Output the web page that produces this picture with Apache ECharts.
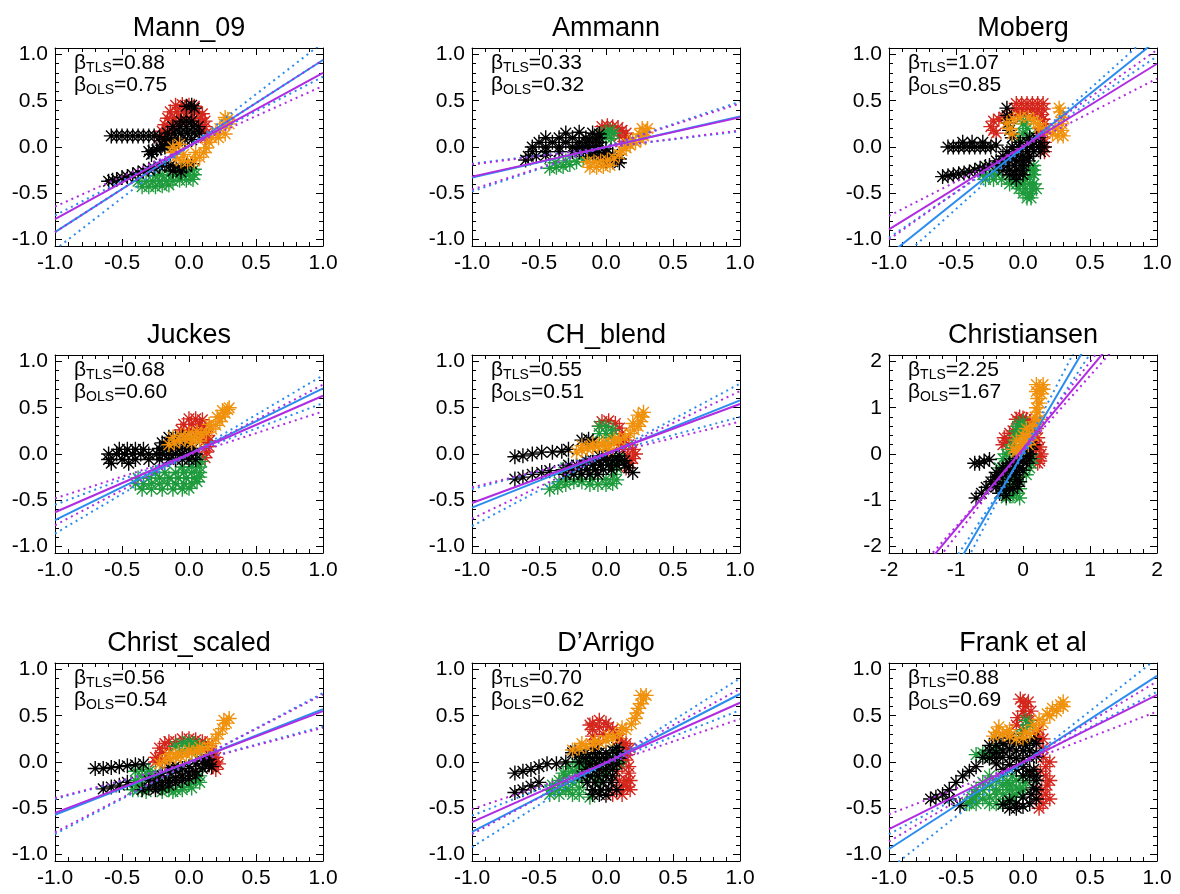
<!DOCTYPE html>
<html><head><meta charset="utf-8">
<script src="https://cdn.jsdelivr.net/npm/echarts@6/dist/echarts.min.js"></script>
<style>html,body{margin:0;padding:0;background:#fff}#c{width:1180px;height:894px}</style>
</head><body><div id="c"></div>
<script>
// ---------- DATA ----------
const panelNames = ['Mann_09', 'Ammann', 'Moberg', 'Juckes', 'CH_blend', 'Christiansen', 'Christ_scaled', "D\u2019Arrigo", 'Frank et al'];
const betaTLS = ['0.88', '0.33', '1.07', '0.68', '0.55', '2.25', '0.56', '0.70', '0.88'];
const betaOLS = ['0.75', '0.32', '0.85', '0.60', '0.51', '1.67', '0.54', '0.62', '0.69'];
const unitTicks = [-1.0, -0.5, 0.0, 0.5, 1.0];
const unitMinor = [-0.9,-0.8,-0.7,-0.6,-0.4,-0.3,-0.2,-0.1,0.1,0.2,0.3,0.4,0.6,0.7,0.8,0.9];
const wideTicks = [-2, -1, 0, 1, 2];
const wideMinor = [-1.8,-1.6,-1.4,-1.2,-0.8,-0.6,-0.4,-0.2,0.2,0.4,0.6,0.8,1.2,1.4,1.6,1.8];
const unitRangeX = [-1, 1];
const unitRangeY = [-1.07, 1.07];
const wideRangeX = [-2, 2];
const wideRangeY = [-2.14, 2.14];

// fit lines: [TLS, TLS bound A, TLS bound B, OLS, OLS bound A, OLS bound B], each [y at xmin, y at xmax]
const mannFit    = [[-0.92,0.94],[-1.11,1.13],[-0.74,0.76],[-0.78,0.80],[-0.645,0.66],[-0.92,0.94]];
const ammannFit  = [[-0.33,0.33],[-0.18,0.17],[-0.48,0.49],[-0.32,0.32],[-0.19,0.18],[-0.46,0.47]];
const mobergFit  = [[-1.165,1.155],[-0.98,0.98],[-1.32,1.28],[-0.89,0.90],[-0.745,0.74],[-1.0,1.05]];
const juckesFit  = [[-0.715,0.71],[-0.86,0.85],[-0.55,0.55],[-0.63,0.63],[-0.48,0.46],[-0.77,0.75]];
const chFit      = [[-0.58,0.58],[-0.78,0.76],[-0.38,0.40],[-0.53,0.54],[-0.36,0.35],[-0.70,0.68]];
const christFit  = [[-4.9,4.94],[-5.58,5.70],[-4.44,4.36],[-3.35,3.57],[-3.65,3.87],[-3.2,3.32]];
const cscaledFit = [[-0.57,0.57],[-0.78,0.745],[-0.40,0.385],[-0.55,0.55],[-0.76,0.73],[-0.39,0.37]];
const darrigoFit = [[-0.755,0.735],[-0.92,0.905],[-0.58,0.56],[-0.65,0.64],[-0.51,0.465],[-0.78,0.79]];
const frankFit   = [[-0.94,0.93],[-1.16,1.12],[-0.78,0.76],[-0.725,0.725],[-0.565,0.545],[-0.86,0.87]];

// ---- scatter clouds ----
const mannBlack = [[-0.58,0.12],[-0.54,0.12],[-0.5,0.12],[-0.46,0.12],[-0.42,0.12],[-0.38,0.12],[-0.34,0.12],[-0.3,0.12],[-0.26,0.12],[-0.22,0.11],
  [-0.3,-0.05],[-0.27,-0.04],[-0.24,-0.03],[-0.21,-0.01],[-0.18,0.0],[-0.15,0.02],[-0.28,-0.08],
  [-0.06,0.28],[-0.02,0.28],[0.02,0.28],[-0.12,0.22],[-0.07,0.22],[-0.02,0.22],[0.03,0.22],[0.07,0.22],
  [-0.16,0.15],[-0.11,0.15],[-0.06,0.15],[-0.01,0.15],[0.04,0.15],[0.08,0.15],[-0.18,0.08],[-0.13,0.08],[-0.08,0.08],[-0.03,0.08],[0.02,0.08],
  [-0.2,0.02],[-0.15,0.02],[-0.1,0.02],[-0.02,0.44],[0.02,0.45],[0.04,0.42],
  [-0.6,-0.37],[-0.57,-0.36],[-0.54,-0.35],[-0.5,-0.33],[-0.46,-0.32],[-0.42,-0.3],[-0.38,-0.28],[-0.34,-0.26],[-0.3,-0.24],[-0.26,-0.23],[-0.22,-0.21],
  [-0.18,-0.2],[-0.14,-0.2],[-0.1,-0.21],[-0.06,-0.22],[-0.02,-0.21],[0.02,-0.18],[-0.12,-0.26],[-0.06,-0.27]];
const mannRed = [[-0.1,0.45],[-0.05,0.46],[0.0,0.45],[0.04,0.44],[-0.14,0.38],[-0.09,0.38],[-0.04,0.38],[0.01,0.38],[0.06,0.38],[0.1,0.36],
  [-0.16,0.31],[-0.11,0.31],[-0.06,0.31],[-0.01,0.31],[0.04,0.31],[0.09,0.31],[0.12,0.28],[-0.18,0.24],[-0.13,0.24],[-0.08,0.24],[0.08,0.24],[0.12,0.22],
  [-0.2,0.17],[-0.16,0.17],[0.1,0.17],[0.13,0.15],[-0.22,0.1],[-0.18,0.1],[0.12,0.1]];
const mannGreen = [[-0.35,-0.43],[-0.3,-0.43],[-0.25,-0.43],[-0.2,-0.42],[-0.15,-0.41],[-0.38,-0.37],[-0.32,-0.37],[-0.27,-0.37],[-0.22,-0.37],[-0.17,-0.37],
  [-0.12,-0.37],[-0.07,-0.36],[-0.02,-0.36],[0.03,-0.35],[-0.25,-0.31],[-0.2,-0.3],[-0.15,-0.3],[-0.1,-0.3],[-0.05,-0.3],[0.0,-0.3],[0.04,-0.3],
  [-0.05,-0.24],[0.0,-0.24],[0.04,-0.24]];
const mannOrange = [[-0.12,0.0],[-0.12,-0.06],[-0.1,-0.11],[-0.06,-0.15],[-0.01,-0.16],[0.04,-0.15],[0.08,-0.11],[0.11,-0.06],[0.13,-0.01],[0.15,0.05],
  [0.17,0.1],[0.2,0.15],[0.23,0.2],[0.26,0.25],[0.29,0.3],[0.27,0.32],[0.3,0.25],[0.27,0.14],[0.22,0.1],[-0.07,0.03],[-0.04,-0.08],[0.05,-0.06]];

const ammannBlack = [[-0.3,0.15],[-0.2,0.16],[-0.1,0.15],[-0.05,0.14],
  [-0.45,0.1],[-0.35,0.1],[-0.25,0.1],[-0.15,0.1],[-0.1,0.1],[-0.05,0.1],
  [-0.5,0.05],[-0.4,0.05],[-0.3,0.05],[-0.2,0.05],[-0.15,0.05],[-0.1,0.05],[-0.05,0.05],
  [-0.55,0.0],[-0.45,0.0],[-0.35,0.0],[-0.25,0.0],[-0.2,0.0],[-0.15,0.0],[-0.1,0.0],[-0.05,0.0],[0.0,-0.02],
  [-0.55,-0.05],[-0.45,-0.05],[-0.35,-0.05],[-0.25,-0.05],[-0.2,-0.05],[-0.15,-0.05],[-0.1,-0.05],[-0.05,-0.06],[0.0,-0.07],[0.05,-0.08],
  [-0.58,-0.1],[-0.52,-0.1],[-0.45,-0.09],[-0.1,-0.1],[-0.05,-0.11],[0.0,-0.11],[0.05,-0.12],[0.1,-0.13],[-0.6,-0.14],[0.0,-0.15],[0.05,-0.16],[0.1,-0.17]];
const ammannRed = [[-0.03,0.22],[0.01,0.23],[0.05,0.22],[0.09,0.21],[0.12,0.18],[0.15,0.15],[0.16,0.1],[0.14,0.06],[-0.03,0.18],[0.1,0.12]];
const ammannGreen = [[-0.03,0.14],[0.0,0.1],[0.04,0.09],[0.06,0.15],[0.03,0.18],[0.0,0.16],
  [-0.42,-0.23],[-0.37,-0.22],[-0.32,-0.21],[-0.27,-0.19],[-0.22,-0.16],[-0.17,-0.13],[-0.12,-0.1],[-0.38,-0.17],[-0.3,-0.15]];
const ammannOrange = [[-0.12,-0.22],[-0.07,-0.22],[-0.02,-0.21],[0.03,-0.2],[-0.14,-0.16],[-0.09,-0.16],[-0.04,-0.15],[0.01,-0.14],[0.06,-0.12],[0.1,-0.08],
  [0.12,-0.04],[0.15,-0.01],[0.18,0.02],[0.22,0.05],[0.26,0.08],[0.28,0.12],[0.3,0.16],[0.31,0.2],[0.27,0.2],[0.25,0.14],[0.2,0.08],[0.16,0.04]];

const mobergBlack = [[-0.56,0],[-0.52,0],[-0.48,0],[-0.44,0],[-0.4,0],[-0.36,0],[-0.32,0],[-0.28,0],[-0.24,0.0],[-0.2,0.02],[-0.45,0.05],[-0.38,0.05],[-0.3,0.05],
  [-0.6,-0.32],[-0.56,-0.31],[-0.52,-0.3],[-0.48,-0.29],[-0.44,-0.28],[-0.4,-0.27],[-0.36,-0.25],[-0.32,-0.23],[-0.28,-0.21],
  [0.05,0.1],[0.1,0.1],[-0.02,0.05],[0.03,0.05],[0.08,0.05],[0.13,0.05],[-0.08,0.0],[-0.03,0.0],[0.02,0.0],[0.07,0.0],[0.12,0.0],[0.16,0.0],
  [-0.12,-0.05],[-0.07,-0.05],[-0.02,-0.05],[0.03,-0.05],[0.08,-0.05],[0.13,-0.05],[-0.15,-0.1],[-0.1,-0.1],[-0.05,-0.1],[0.0,-0.1],[0.05,-0.1],
  [-0.2,-0.15],[-0.15,-0.15],[-0.1,-0.15],[-0.05,-0.15],[0.0,-0.15],[0.04,-0.15],[-0.25,-0.2],[-0.18,-0.2],[-0.12,-0.2],[-0.06,-0.2],[0.0,-0.2],
  [-0.15,-0.25],[-0.1,-0.25],[-0.05,-0.25],[0.0,-0.25],[-0.1,-0.3],[-0.05,-0.3],[0.0,-0.3],[-0.05,-0.35],
  [-0.08,0.1],[-0.1,0.18],[-0.11,0.26],[-0.12,0.34],[-0.12,0.42]];
const mobergRed = [[-0.05,0.47],[-0.01,0.47],[0.03,0.47],[0.07,0.47],[0.11,0.47],[0.15,0.47],[-0.05,0.41],[-0.01,0.41],[0.03,0.41],[0.07,0.41],[0.11,0.41],[0.15,0.41],
  [-0.04,0.35],[0.02,0.35],[0.08,0.35],[0.14,0.35],[0.15,0.3],[0.16,0.25],[0.15,0.2],[0.16,0.15],[0.15,0.1],[0.16,0.05],[0.15,0.0],[0.16,-0.05],[0.12,0.15],
  [-0.24,0.22],[-0.22,0.28],[-0.2,0.15],[-0.18,0.3],[-0.14,0.32],[-0.1,0.34],[-0.22,0.18]];
const mobergGreen = [[0.0,0.25],[0.03,0.2],[0.0,0.15],[-0.03,0.1],[0.05,0.12],[0.02,0.28],
  [-0.3,-0.3],[-0.25,-0.3],[-0.2,-0.3],[-0.28,-0.35],[-0.22,-0.35],[-0.16,-0.35],[-0.1,-0.35],[-0.05,-0.36],[-0.1,-0.4],[-0.05,-0.4],[0.0,-0.4],[0.05,-0.4],[0.08,-0.4],
  [-0.03,-0.45],[0.02,-0.45],[0.07,-0.45],[0.0,-0.5],[0.05,-0.5],[0.03,-0.55],[0.08,-0.2],[0.08,-0.25],[0.08,-0.3],[0.05,-0.25],[0.05,-0.33],
  [-0.3,-0.25],[-0.2,-0.25],[0.02,-0.35],[-0.02,-0.4],[0.1,-0.45],[0.06,-0.55]];
const mobergOrange = [[-0.12,0.26],[-0.1,0.2],[-0.08,0.14],[-0.07,0.3],[-0.02,0.32],[0.04,0.32],[0.08,0.29],[0.11,0.25],[0.12,0.21],[0.17,0.2],[0.22,0.14],
  [0.26,0.12],[0.29,0.18],[0.29,0.25],[0.3,0.32],[0.28,0.38],[0.27,0.42],[0.24,0.2],[0.3,0.12]];

const juckesBlack = [[-0.52,0.05],[-0.46,0.05],[-0.4,0.05],[-0.34,0.05],[-0.6,0.0],[-0.54,0.0],[-0.48,0.0],[-0.42,0.0],[-0.36,0.0],[-0.3,0.0],[-0.24,0.0],
  [-0.6,-0.06],[-0.5,-0.06],[-0.4,-0.06],[-0.3,-0.06],[-0.22,-0.06],[-0.58,-0.1],[-0.45,-0.1],
  [-0.15,0.18],[-0.1,0.18],[-0.05,0.18],[-0.2,0.12],[-0.15,0.12],[-0.1,0.12],[-0.05,0.12],[0.0,0.12],
  [-0.22,0.06],[-0.17,0.06],[-0.12,0.06],[-0.07,0.06],[-0.02,0.06],[0.03,0.06],[-0.2,0.0],[-0.15,0.0],[-0.1,0.0],[-0.05,0.0],[0.0,0.0],[0.05,0.0],
  [-0.15,-0.06],[-0.1,-0.06],[-0.05,-0.06],[0.0,-0.06],[0.05,-0.06]];
const juckesRed = [[0.0,0.38],[0.05,0.38],[0.1,0.37],[-0.04,0.32],[0.02,0.32],[0.08,0.32],[0.12,0.3],[-0.06,0.26],[0.0,0.26],[0.06,0.26],[0.12,0.24],
  [0.1,0.2],[0.14,0.2],[0.12,0.14],[0.15,0.14],[0.13,0.08],[0.15,0.08],[0.13,0.02],[0.12,-0.04]];
const juckesGreen = [[-0.35,-0.38],[-0.28,-0.38],[-0.2,-0.38],[-0.12,-0.38],[-0.05,-0.38],[0.0,-0.37],
  [-0.4,-0.32],[-0.34,-0.32],[-0.28,-0.32],[-0.22,-0.32],[-0.16,-0.32],[-0.1,-0.32],[-0.04,-0.32],[0.02,-0.32],[0.06,-0.3],
  [-0.38,-0.26],[-0.3,-0.26],[-0.22,-0.26],[-0.15,-0.26],[-0.08,-0.26],[-0.02,-0.26],[0.04,-0.26],[0.08,-0.25],
  [-0.25,-0.2],[-0.18,-0.2],[-0.1,-0.2],[-0.04,-0.2],[0.02,-0.2],[0.08,-0.2],[-0.05,-0.14],[0.02,-0.14],[0.08,-0.14],[0.05,-0.08],[0.09,-0.08]];
const juckesOrange = [[-0.15,0.1],[-0.11,0.12],[-0.07,0.14],[-0.03,0.16],[0.01,0.17],[0.05,0.19],[0.09,0.21],[0.13,0.23],[0.17,0.27],[0.2,0.31],[0.23,0.35],
  [0.25,0.4],[0.27,0.44],[0.29,0.48],[0.3,0.5],[0.25,0.47],[-0.12,0.18],[-0.06,0.2],[0.0,0.22],[0.06,0.24],[0.02,0.12],[0.08,0.14],[0.15,0.32],[0.21,0.4]];

const chBlack = [[-0.68,-0.03],[-0.62,-0.02],[-0.55,0.0],[-0.48,0.02],[-0.4,0.02],[-0.33,0.03],[-0.28,0.05],
  [-0.68,-0.27],[-0.62,-0.25],[-0.55,-0.22],[-0.48,-0.2],[-0.42,-0.18],
  [-0.05,-0.02],[0.0,-0.02],[0.05,-0.02],[0.1,-0.02],[-0.15,-0.07],[-0.1,-0.07],[-0.05,-0.07],[0.0,-0.07],[0.05,-0.07],[0.1,-0.07],[0.14,-0.07],
  [-0.28,-0.12],[-0.22,-0.12],[-0.16,-0.12],[-0.1,-0.12],[-0.04,-0.12],[0.02,-0.12],[0.08,-0.12],[0.14,-0.12],
  [-0.32,-0.17],[-0.26,-0.17],[-0.2,-0.17],[-0.14,-0.17],[-0.08,-0.17],[-0.02,-0.17],[0.04,-0.17],[-0.3,-0.22],[-0.24,-0.22],[-0.18,-0.22],[-0.12,-0.22],[-0.06,-0.22],
  [0.2,-0.2],[0.17,-0.15],[-0.18,0.15],[-0.13,0.16],[-0.1,0.13]];
const chRed = [[-0.03,0.35],[0.02,0.36],[0.07,0.33],[0.1,0.28],[0.12,0.22],[0.14,0.15],[0.17,0.1],[0.2,0.05],[0.22,0.0],[0.2,-0.05],[0.18,-0.1],[0.15,-0.15],
  [0.13,0.05],[0.16,-0.02],[-0.05,0.3],[0.1,0.1]];
const chGreen = [[-0.05,0.3],[0.0,0.3],[0.05,0.26],[0.0,0.22],[-0.05,0.22],[0.04,0.18],
  [-0.42,-0.38],[-0.36,-0.36],[-0.3,-0.33],[-0.24,-0.3],[-0.18,-0.3],[-0.12,-0.33],[-0.06,-0.33],[0.0,-0.33],[0.05,-0.32],[0.08,-0.28],
  [-0.3,-0.27],[-0.2,-0.27],[-0.1,-0.27],[0.0,-0.27],[0.06,-0.22],[0.08,-0.15],[0.05,-0.1],[0.1,-0.05],[-0.1,-0.12],[-0.3,-0.15],[-0.35,-0.3]];
const chOrange = [[-0.22,0.02],[-0.18,0.04],[-0.14,0.06],[-0.1,0.07],[-0.06,0.08],[-0.02,0.09],[0.02,0.1],[0.06,0.12],[0.1,0.15],[0.14,0.18],[0.18,0.22],
  [0.21,0.26],[0.24,0.3],[0.26,0.35],[0.27,0.4],[0.28,0.45],[0.24,0.42],[-0.18,0.09],[-0.1,0.11],[-0.02,0.13],[0.06,0.16],[0.02,0.05],[0.2,0.33]];

const christBlack = [[-0.72,-0.2],[-0.65,-0.2],[-0.58,-0.15],[-0.5,-0.12],[-0.7,-0.95],[-0.62,-0.85],[-0.55,-0.72],[-0.48,-0.6],[-0.42,-0.5],
  [-0.4,-0.4],[-0.3,-0.3],[-0.2,-0.2],[-0.1,-0.1],[0.0,0.0],[0.1,0.1],[0.15,0.2],[0.05,-0.2],[0.0,-0.35],[-0.1,-0.4],[-0.2,-0.55],[-0.3,-0.65],
  [-0.15,-0.75],[-0.05,-0.6],[0.1,-0.1],[-0.25,-0.9],[-0.35,-0.85],[-0.3,-0.45],[-0.2,-0.35],[-0.1,-0.25],[0.0,-0.15],[0.05,0.05],[-0.4,-0.7],[-0.1,-0.55],[0.1,0.0],
  [-0.45,-0.65],[-0.38,-0.55],[-0.32,-0.4],[-0.25,-0.3],[-0.15,-0.2],[-0.05,-0.05],[0.05,0.15],[-0.12,-0.45],[-0.05,-0.3],[0.05,-0.05],[-0.2,-0.75],[-0.3,-0.8],[-0.08,-0.7]];
const christRed = [[-0.1,0.75],[-0.05,0.8],[0.05,0.75],[0.1,0.7],[0.1,0.55],[0.15,0.45],[0.15,0.3],[0.2,0.2],[0.2,0.1],[0.25,-0.05],[0.22,-0.2],[-0.3,0.2],[-0.2,0.3],[-0.15,0.5],[-0.25,0.25],
  [0.2,0.55],[0.18,0.65],[0.22,0.35],[0.25,0.15],[0.27,0.0],[0.25,-0.15],[-0.05,0.7],[0.0,0.78],[-0.28,0.35],[-0.2,0.45]];
const christGreen = [[-0.05,0.65],[0.0,0.55],[-0.05,0.4],[-0.1,0.3],[-0.15,0.2],[-0.25,0.0],[-0.3,-0.1],[-0.2,-0.1],[-0.35,-0.3],[-0.3,-0.5],[-0.2,-0.7],[-0.1,-0.85],
  [-0.25,-0.95],[-0.05,-0.5],[0.1,-0.3],[0.15,-0.1],[-0.1,0.5],[-0.2,0.1],[-0.25,-0.25],[-0.15,-0.9],[-0.05,-0.75],
  [-0.3,-0.7],[-0.35,-0.55],[-0.22,-0.45],[-0.15,-0.55],[-0.1,-0.65],[-0.2,-0.9],[-0.3,-0.85],[-0.08,0.6],[-0.12,0.4],[0.05,0.5],[0.0,0.7],[-0.05,-0.95],[0.05,-0.45],[0.12,-0.2]];
const christOrange = [[-0.1,0.05],[-0.05,0.15],[0.0,0.25],[0.05,0.35],[0.1,0.45],[0.15,0.6],[0.18,0.8],[0.2,1.0],[0.22,1.2],[0.25,1.4],[0.2,1.35],[0.3,1.4],[0.0,0.4],[-0.1,0.3],[0.2,0.65],[0.05,0.55],
  [0.22,0.9],[0.25,1.1],[0.28,1.3],[0.3,1.5],[0.2,1.5],[0.25,0.75],[0.12,0.3],[0.08,0.2],[-0.05,0.1],[-0.15,0.1],[0.15,0.4]];

const cscaledBlack = [[-0.7,-0.07],[-0.64,-0.07],[-0.58,-0.06],[-0.52,-0.05],[-0.46,-0.04],[-0.4,-0.03],[-0.34,-0.02],
  [-0.64,-0.29],[-0.58,-0.27],[-0.52,-0.25],[-0.46,-0.22],
  [-0.35,-0.3],[-0.3,-0.28],[-0.25,-0.25],[-0.2,-0.22],[-0.15,-0.2],[-0.1,-0.17],[-0.05,-0.15],[0.0,-0.12],[0.05,-0.1],[0.1,-0.07],[0.15,-0.03],
  [-0.2,-0.15],[-0.15,-0.12],[-0.1,-0.1],[-0.05,-0.07],[0.0,-0.05],[0.05,-0.02],[0.1,0.01],[0.15,0.03],[0.1,0.05],[-0.25,-0.3],[-0.3,-0.2],[-0.15,-0.25],
  [0.12,-0.02],[0.17,-0.05],[-0.1,-0.22],[-0.05,-0.2],[0.0,-0.18],[-0.2,-0.28],[-0.25,-0.2],[-0.15,-0.06],[-0.1,-0.04],[0.05,-0.15]];
const cscaledRed = [[-0.25,0.05],[-0.2,0.1],[-0.15,0.15],[-0.1,0.22],[-0.05,0.25],[0.0,0.25],[0.05,0.24],[0.1,0.22],[0.14,0.18],[0.17,0.12],[0.18,0.05],[0.2,0.0],[0.18,-0.05],[-0.18,0.2],[-0.2,0.03],
  [-0.22,0.15],[-0.15,0.22],[0.12,0.2],[0.2,0.05],[0.22,-0.02],[0.2,-0.08],[-0.25,0.0],[0.15,0.08]];
const cscaledGreen = [[-0.05,0.2],[0.0,0.18],[0.05,0.15],[-0.05,0.12],[0.02,0.1],[0.08,0.18],
  [-0.42,-0.3],[-0.38,-0.25],[-0.35,-0.15],[-0.3,-0.1],[-0.25,-0.12],[-0.2,-0.27],[-0.15,-0.3],[-0.1,-0.3],[-0.05,-0.27],[0.0,-0.24],[0.05,-0.2],[0.08,-0.15],
  [-0.4,-0.2],[-0.35,-0.25],[-0.3,-0.15],[-0.4,-0.1],[-0.38,-0.3],[-0.32,-0.32],[-0.25,-0.18],[-0.2,-0.32],[-0.12,-0.32],[-0.05,-0.3],[0.02,-0.28],[0.08,-0.22],
  [-0.35,-0.08],[0.0,0.22],[-0.1,0.17],[0.04,0.2]];
const cscaledOrange = [[-0.22,-0.02],[-0.18,0.02],[-0.14,0.04],[-0.1,0.05],[-0.06,0.06],[-0.02,0.08],[0.02,0.1],[0.06,0.11],[0.1,0.13],[0.14,0.16],[0.17,0.2],
  [0.2,0.25],[0.22,0.3],[0.25,0.36],[0.28,0.42],[0.3,0.47],[0.26,0.45],[-0.15,0.08],[-0.08,0.1],[0.0,0.13],[0.08,0.16]];

const darrigoBlack = [[-0.68,-0.12],[-0.62,-0.1],[-0.56,-0.08],[-0.5,-0.05],[-0.44,-0.02],[-0.37,-0.02],[-0.3,0.0],
  [-0.68,-0.33],[-0.62,-0.3],[-0.56,-0.26],[-0.5,-0.22],[-0.23,0.12],
  [-0.25,0.1],[-0.2,0.08],[-0.15,0.1],[-0.1,0.1],[-0.05,0.1],[0.0,0.1],[0.05,0.12],[0.1,0.1],[-0.15,0.04],[-0.1,0.04],[-0.05,0.04],[0.0,0.04],[0.05,0.04],[0.1,0.04],
  [-0.12,-0.02],[-0.07,-0.02],[-0.02,-0.02],[0.03,-0.02],[0.08,-0.02],[-0.15,-0.08],[-0.1,-0.08],[-0.05,-0.08],[0.0,-0.08],[0.05,-0.08],
  [-0.18,-0.15],[-0.12,-0.15],[-0.06,-0.15],[0.0,-0.15],[0.05,-0.15],[-0.14,-0.22],[-0.08,-0.22],[-0.02,-0.22],[0.04,-0.22],
  [-0.1,-0.3],[-0.04,-0.3],[0.02,-0.3],[-0.05,-0.35],[-0.1,-0.35],
  [-0.2,0.0],[0.08,-0.3],[0.0,-0.36],[0.08,0.16],[-0.08,0.14]];
const darrigoRed = [[-0.1,0.42],[-0.05,0.45],[0.0,0.42],[0.05,0.35],[-0.1,0.35],[-0.1,0.28],[-0.08,0.2],[0.1,0.25],[0.15,0.2],[0.15,0.14],[0.16,0.08],[0.15,0.02],
  [0.17,-0.05],[0.17,-0.12],[0.15,-0.2],[0.16,-0.27],[0.1,-0.3],[0.05,-0.35],[0.12,-0.35],[0.08,-0.1],[0.1,-0.2],
  [0.18,0.15],[0.18,-0.2],[0.18,-0.3],[0.13,-0.25],[0.12,0.2],[0.13,0.08],[0.12,-0.05],[-0.12,0.4],[-0.05,0.38],[0.02,0.38],[-0.02,0.3],[0.08,0.3]];
const darrigoGreen = [[-0.42,-0.35],[-0.38,-0.3],[-0.35,-0.2],[-0.3,-0.15],[-0.25,-0.1],[-0.2,-0.05],[-0.15,-0.05],[-0.15,-0.1],[-0.1,-0.15],[-0.05,-0.2],
  [0.0,-0.1],[0.05,0.05],[0.08,0.12],[-0.3,-0.3],[-0.2,-0.35],[0.0,0.0],[-0.35,-0.35],[-0.25,-0.35],[-0.3,-0.22],[-0.22,-0.12],
  [-0.4,-0.25],[-0.35,-0.28],[-0.32,-0.12],[-0.28,-0.05],[-0.22,-0.02],[-0.18,0.02],[-0.1,0.02],[-0.42,-0.3],[-0.2,-0.28],[-0.12,-0.38],[0.05,-0.02],[0.1,0.0],
  [-0.25,-0.22],[-0.2,-0.2],[-0.28,-0.3]];
const darrigoOrange = [[-0.25,0.13],[-0.2,0.15],[-0.15,0.17],[-0.1,0.19],[-0.05,0.21],[0.0,0.23],[0.05,0.26],[0.1,0.3],[0.15,0.35],[0.19,0.41],[0.22,0.47],
  [0.23,0.53],[0.24,0.58],[0.26,0.63],[0.28,0.68],[0.3,0.72],[0.26,0.72],[-0.18,0.2],[-0.08,0.23],[0.02,0.28],[0.12,0.37]];

const frankBlack = [[-0.69,-0.4],[-0.65,-0.38],[-0.6,-0.35],[-0.55,-0.3],[-0.5,-0.22],[-0.45,-0.15],[-0.4,-0.1],[-0.35,-0.05],[-0.47,-0.47],[-0.55,-0.4],
  [-0.3,0.05],[-0.25,0.12],[-0.2,0.18],[-0.15,0.2],[-0.1,0.22],[-0.05,0.2],[0.0,0.2],[0.05,0.22],[0.1,0.2],[-0.2,0.1],[-0.15,0.12],[-0.1,0.14],[-0.05,0.12],
  [0.0,0.12],[0.05,0.12],[0.1,0.1],[-0.25,0.04],[-0.2,0.04],[-0.15,0.05],[-0.1,0.05],[-0.05,0.04],[0.0,0.02],[0.05,0.05],[-0.2,-0.02],[-0.1,-0.03],
  [0.0,-0.05],[0.05,-0.1],[0.1,-0.2],[0.1,-0.3],[0.1,-0.4],[0.05,-0.45],[0.0,-0.48],[-0.05,-0.5],[-0.1,-0.5],[-0.15,-0.46],[0.08,-0.28],[0.06,-0.35],
  [-0.2,0.25],[-0.1,0.26],[0.0,0.25],[0.08,0.25],[-0.25,0.18],[0.02,0.18],[0.1,0.06],[-0.15,-0.08],[-0.05,-0.08],[0.08,-0.08],[0.0,-0.15],[0.05,-0.15],[0.1,-0.15],
  [-0.05,-0.45],[0.0,-0.38],[-0.1,-0.42]];
const frankRed = [[0.0,0.65],[0.02,0.6],[0.0,0.55],[0.02,0.5],[0.05,0.45],[-0.05,0.4],[0.0,0.35],[0.12,0.35],[0.15,0.25],[0.15,0.15],[0.15,0.05],[0.17,-0.05],
  [0.17,-0.15],[0.18,-0.25],[0.17,-0.35],[0.15,-0.45],[0.12,-0.5],[0.13,-0.1],[0.14,-0.3],
  [0.2,0.0],[0.2,-0.2],[0.2,-0.4],[0.12,0.25],[0.12,-0.4],[0.1,0.3],[-0.02,0.68],[0.04,0.65],[0.06,0.55],[-0.04,0.48]];
const frankGreen = [[0.02,0.45],[0.05,0.4],[0.02,0.35],[-0.02,0.3],[-0.42,-0.45],[-0.38,-0.42],[-0.35,-0.35],[-0.3,-0.3],[-0.25,-0.25],[-0.2,-0.2],
  [-0.25,0.05],[-0.3,0.1],[-0.2,0.15],[-0.15,-0.35],[-0.1,-0.4],[-0.05,-0.35],[0.0,-0.3],[-0.1,-0.25],[-0.05,-0.2],[0.0,-0.15],[-0.15,-0.15],
  [-0.3,-0.4],[-0.2,-0.35],[-0.25,-0.45],[-0.15,-0.25],[-0.05,-0.28],
  [-0.4,-0.45],[-0.35,-0.45],[-0.2,-0.45],[-0.15,-0.45],[-0.38,-0.38],[-0.25,-0.38],[-0.08,-0.38],[-0.35,-0.3],[-0.2,-0.3],[-0.1,-0.3],[-0.02,-0.3],
  [-0.3,-0.22],[-0.12,-0.22],[0.02,-0.22],[-0.25,-0.15],[-0.08,-0.15],[-0.35,0.08],[-0.28,0.08]];
const frankOrange = [[-0.2,0.32],[-0.15,0.3],[-0.1,0.28],[-0.05,0.25],[0.0,0.26],[0.05,0.3],[0.1,0.35],[0.15,0.42],[0.2,0.5],[0.25,0.55],[0.3,0.6],
  [0.28,0.62],[-0.18,0.38],[-0.1,0.35],[0.08,0.4],[0.12,0.46],[-0.22,0.28],[-0.12,0.32],[0.02,0.32],[0.18,0.52],[0.22,0.58],[0.3,0.65]];

// ---------- BUILD ----------
const panelFits = [mannFit, ammannFit, mobergFit, juckesFit, chFit, christFit, cscaledFit, darrigoFit, frankFit];
const panelBlack = [mannBlack, ammannBlack, mobergBlack, juckesBlack, chBlack, christBlack, cscaledBlack, darrigoBlack, frankBlack];
const panelRed = [mannRed, ammannRed, mobergRed, juckesRed, chRed, christRed, cscaledRed, darrigoRed, frankRed];
const panelGreen = [mannGreen, ammannGreen, mobergGreen, juckesGreen, chGreen, christGreen, cscaledGreen, darrigoGreen, frankGreen];
const panelOrange = [mannOrange, ammannOrange, mobergOrange, juckesOrange, chOrange, christOrange, cscaledOrange, darrigoOrange, frankOrange];

const colLeft = [55, 472, 889];
const rowTop = [48, 355, 663];
const W = 268, H = 198;
const FONT = '"Liberation Sans", Arial, Helvetica, sans-serif';
const C = { black: '#000000', red: '#d4261c', green: '#1e9b3c', orange: '#f0910c', blue: '#2b8cef', mag: '#b02ce2' };
const STAR = 'path://M0,6L12,6M6,0L6,12M1.76,1.76L10.24,10.24M10.24,1.76L1.76,10.24';

const grids = [], xAxes = [], yAxes = [], series = [], graphics = [];
function fmt(wide) { return v => wide ? String(Math.round(v)) : v.toFixed(1); }

for (let i = 0; i < 9; i++) {
  const r = Math.floor(i / 3), c = i % 3;
  const left = colLeft[c], top = rowTop[r];
  const wide = i === 5;
  const rx = wide ? wideRangeX : unitRangeX;
  const ry = wide ? wideRangeY : unitRangeY;
  const major = wide ? wideTicks : unitTicks;
  const minor = wide ? wideMinor : unitMinor;
  grids.push({ left: left, top: top, width: W, height: H, containLabel: false });
  const line = { show: true, onZero: false, lineStyle: { color: '#000', width: 1 } };
  const tickStyle = { color: '#000', width: 1 };
  const mk = (pos, isX, labels, isMajor) => ({
    type: 'value', gridIndex: i, min: isX ? rx[0] : ry[0], max: isX ? rx[1] : ry[1], position: pos,
    axisLine: isMajor ? line : { show: false, onZero: false },
    axisTick: { show: true, inside: true, length: isMajor ? 7 : 4, customValues: isMajor ? major : minor, lineStyle: tickStyle },
    axisLabel: labels ? { show: true, customValues: major, formatter: fmt(wide), color: '#000', fontSize: 21, fontFamily: FONT, margin: 7 } : { show: false },
    splitLine: { show: false }, minorTick: { show: false }, silent: true
  });
  xAxes.push(mk('bottom', true, true, true), mk('bottom', true, false, false), mk('top', true, false, true), mk('top', true, false, false));
  yAxes.push(mk('left', false, true, true), mk('left', false, false, false), mk('right', false, false, true), mk('right', false, false, false));
  const xi = i * 4, yi = i * 4;

  const addScatter = (data, color) => series.push({
    type: 'scatter', xAxisIndex: xi, yAxisIndex: yi, data: data, symbol: STAR, symbolSize: 15,
    itemStyle: { color: color, borderColor: color, borderWidth: 1.4, opacity: 1 }, silent: true, clip: true, z: 2
  });
  addScatter(panelRed[i], C.red);
  addScatter(panelGreen[i], C.green);
  addScatter(panelBlack[i], C.black);
  addScatter(panelOrange[i], C.orange);

  const fit = panelFits[i];
  const styles = [
    { color: C.blue, type: 'solid', width: 2 },
    { color: C.blue, type: [2, 4], width: 2 },
    { color: C.blue, type: [2, 4], width: 2 },
    { color: C.mag, type: 'solid', width: 2 },
    { color: C.mag, type: [2, 4], width: 2 },
    { color: C.mag, type: [2, 4], width: 2 }
  ];
  for (let k = 0; k < 6; k++) {
    series.push({
      type: 'line', xAxisIndex: xi, yAxisIndex: yi, data: [[rx[0], fit[k][0]], [rx[1], fit[k][1]]],
      showSymbol: false, symbol: 'none', lineStyle: styles[k], clip: true, silent: true, z: 3 + (k >= 3 ? 1 : 0)
    });
  }

  graphics.push({
    type: 'text', x: left + W / 2, y: top - 19,
    style: { text: panelNames[i], font: '27px ' + FONT, fill: '#000', textAlign: 'center', textVerticalAlign: 'middle' }, silent: true
  });
  const rich = {
    b: { fontSize: 21, fontFamily: FONT, lineHeight: 24, fill: '#000', color: '#000' },
    s: { fontSize: 14, fontFamily: FONT, lineHeight: 12, verticalAlign: 'bottom', fill: '#000', color: '#000' }
  };
  graphics.push({
    type: 'text', x: left + 19, y: top + 3,
    style: { text: '{b|\u03B2}{s|TLS}{b|=' + betaTLS[i] + '}', rich: rich, textAlign: 'left', textVerticalAlign: 'top', fill: '#000' }, silent: true, z: 10
  });
  graphics.push({
    type: 'text', x: left + 19, y: top + 25,
    style: { text: '{b|\u03B2}{s|OLS}{b|=' + betaOLS[i] + '}', rich: rich, textAlign: 'left', textVerticalAlign: 'top', fill: '#000' }, silent: true, z: 10
  });
}

const chart = echarts.init(document.getElementById('c'), null, { renderer: 'canvas' });
chart.setOption({
  animation: false,
  backgroundColor: '#ffffff',
  grid: grids, xAxis: xAxes, yAxis: yAxes, series: series, graphic: graphics
});
</script>
</body></html>
